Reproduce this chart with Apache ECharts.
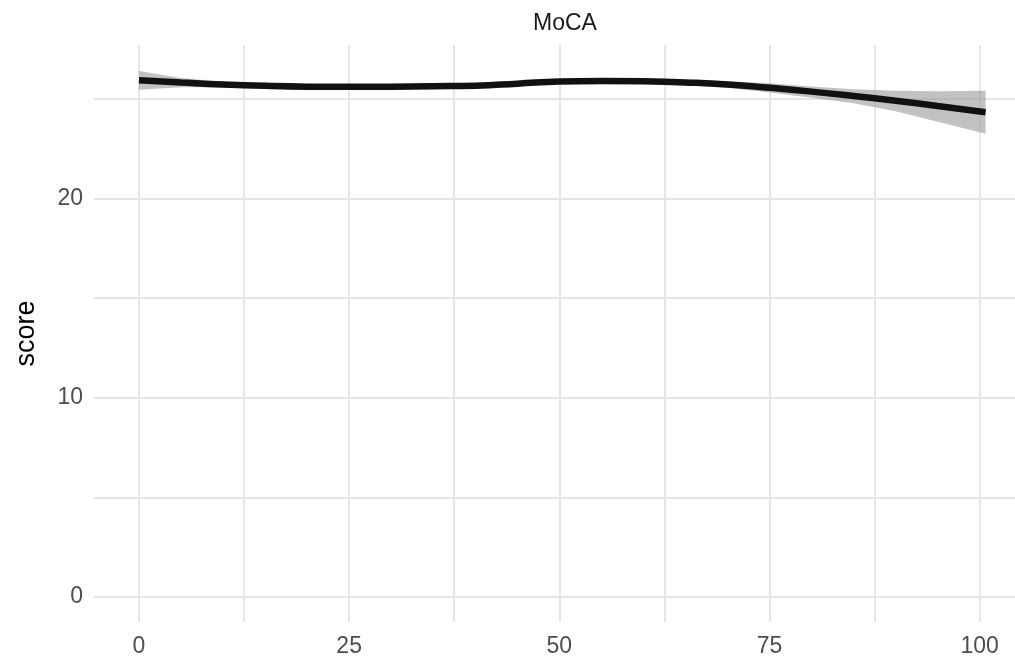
<!DOCTYPE html>
<html>
<head>
<meta charset="utf-8">
<script src="https://cdn.jsdelivr.net/npm/echarts@6/dist/echarts.min.js"></script>
<style>html,body{margin:0;padding:0;background:#fff}#c{width:1015px;height:661px}</style>
</head>
<body>
<div id="c"></div>
<script>
const xs    = [0, 5, 10, 15, 20, 25, 30, 35, 40, 45, 50, 55, 60, 65, 70, 75, 80, 85, 90, 95, 100.7];
const fit   = [25.93, 25.82, 25.72, 25.65, 25.61, 25.60, 25.61, 25.63, 25.66, 25.76, 25.87, 25.90, 25.88, 25.82, 25.72, 25.55, 25.36, 25.14, 24.90, 24.64, 24.33];
const lower = [25.45, 25.58, 25.58, 25.52, 25.48, 25.47, 25.48, 25.50, 25.53, 25.63, 25.74, 25.77, 25.75, 25.68, 25.56, 25.32, 25.05, 24.78, 24.38, 23.85, 23.25];
const upper = [26.40, 26.05, 25.86, 25.78, 25.74, 25.73, 25.74, 25.76, 25.79, 25.89, 26.00, 26.03, 26.01, 25.96, 25.88, 25.78, 25.62, 25.48, 25.40, 25.38, 25.40];
const xTickLabels = [0, 25, 50, 75, 100];
const xGridValues = [0, 12.5, 25, 37.5, 50, 62.5, 75, 87.5, 100];
const yTickLabels = [0, 10, 20];
const yGridValues = [0, 5, 10, 15, 20, 25];

const chart = echarts.init(document.getElementById('c'), null, {renderer: 'canvas'});
const fitData = xs.map((x, i) => [x, fit[i]]);
const bandData = xs.map((x, i) => [x, lower[i], upper[i]]);

chart.setOption({
  animation: false,
  backgroundColor: '#ffffff',
  title: {
    text: 'MoCA',
    left: 560, textAlign: 'center', top: 7,
    textStyle: {fontFamily: 'Liberation Sans', fontSize: 23, fontWeight: 'normal', color: '#1a1a1a'}
  },
  grid: {left: 94, right: 0, top: 45, bottom: 39},
  xAxis: {
    type: 'value', min: -5.35, max: 104.2,
    axisLine: {show: false},
    axisTick: {show: false, customValues: xGridValues},
    axisLabel: {customValues: xTickLabels, margin: 13, color: '#4d4d4d', fontSize: 23, fontFamily: 'Liberation Sans'},
    splitLine: {show: true, lineStyle: {color: '#e6e6e6', width: 2}}
  },
  yAxis: {
    type: 'value', min: -1.25, max: 27.7,
    name: 'score', nameLocation: 'middle', nameGap: 54,
    nameTextStyle: {fontSize: 27, color: '#000', fontFamily: 'Liberation Sans'},
    axisLine: {show: false},
    axisTick: {show: false, customValues: yGridValues},
    axisLabel: {customValues: yTickLabels, margin: 11, color: '#4d4d4d', fontSize: 23, fontFamily: 'Liberation Sans'},
    splitLine: {show: true, lineStyle: {color: '#e6e6e6', width: 2}}
  },
  series: [
    {
      type: 'custom',
      data: [0],
      silent: true,
      z: 1,
      renderItem: function (params, api) {
        const up = bandData.map(d => api.coord([d[0], d[2]]));
        const lo = bandData.slice().reverse().map(d => api.coord([d[0], d[1]]));
        return {
          type: 'polygon',
          shape: {points: up.concat(lo)},
          style: {fill: 'rgba(153,153,153,0.6)', stroke: null}
        };
      }
    },
    {
      type: 'line',
      data: fitData,
      smooth: true,
      showSymbol: false,
      z: 3,
      lineStyle: {color: '#111', width: 6.5}
    }
  ]
});
</script>
</body>
</html>
